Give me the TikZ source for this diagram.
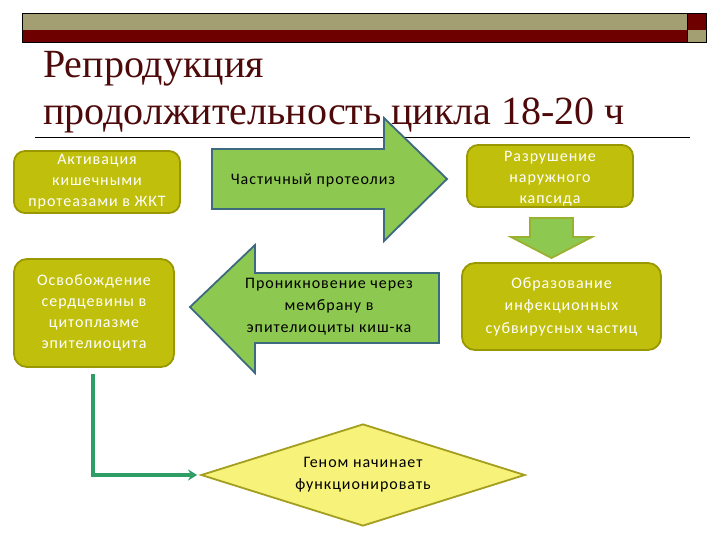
\documentclass[tikz,border=0pt]{standalone}
\usepackage{fontspec}
\setmainfont{Liberation Serif}
\newfontfamily\titlefont{Liberation Serif}
\newfontfamily\boxfont[LetterSpace=6]{Carlito}
\usetikzlibrary{shapes.geometric,arrows.meta}
\definecolor{barolive}{HTML}{A39F72}
\definecolor{bardark}{HTML}{6E0000}
\definecolor{titlecol}{HTML}{4E0A0A}
\definecolor{boxfill}{HTML}{C0BF0C}
\definecolor{boxedge}{HTML}{9A9800}
\definecolor{arrfill}{HTML}{8DC850}
\definecolor{arredge}{HTML}{3D6A7E}
\definecolor{downedge}{HTML}{9CB030}
\definecolor{dmfill}{HTML}{F7F27A}
\definecolor{dmedge}{HTML}{A39E1E}
\definecolor{conncol}{HTML}{2E9E66}
\tikzset{
  ybox/.style={draw=boxedge, line width=1.8pt, fill=boxfill, rounded corners=11pt,
    text=white, font=\boxfont\fontsize{16}{21}\selectfont, align=center, inner sep=0pt},
  blockarrow/.style={draw=arredge, line width=1.8pt, fill=arrfill, line join=miter},
  arrtext/.style={text=black, font=\boxfont\fontsize{16}{22}\selectfont, align=center, inner sep=0pt},
  titletext/.style={text=titlecol, font=\titlefont\fontsize{40}{47}\selectfont, anchor=base west, inner sep=0pt},
  conn/.style={draw=conncol, line width=3.2pt, -{Stealth[length=9pt,width=11pt]}}
}
\begin{document}
\begin{tikzpicture}[x=1pt,y=-1pt]
\useasboundingbox (0,0) rectangle (720,540);
\fill[white] (0,0) rectangle (720,540);
% top bar
\fill[barolive] (22,13) rectangle (687,30);
\fill[bardark] (22,30) rectangle (687,42);
\fill[bardark] (687,13) rectangle (706,30);
\fill[barolive] (687,30) rectangle (706,42);
\draw[line width=0.7pt] (22,13) rectangle (687,42);
\draw[line width=0.7pt] (687,13) rectangle (706,42);
% title
\node[titletext] (t1) at (43,78) {Репродукция};
\node[titletext] (t2) at (43,125) {продолжительность цикла 18-20 ч};
\draw[line width=0.9pt] (35,137.5) coordinate (l1) -- (690,137.5) coordinate (l2);
% right block arrow
\draw[blockarrow] (212,149) -- (384,149) -- (384,118) -- (447,179) -- (384,241) -- (384,209) -- (212,209) -- cycle;
\node[arrtext] (a1) at (313,180) {Частичный протеолиз};
% left block arrow
\draw[blockarrow] (190,307) -- (255,245) -- (255,273) -- (439,273) -- (439,343) -- (255,343) -- (255,373) -- cycle;
\node[arrtext] (a2) at (329,307) {Проникновение через\\мембрану в\\эпителиоциты киш-ка};
% down arrow
\draw[draw=downedge, line width=1.8pt, fill=arrfill] (530,218) -- (573,218) -- (573,237) -- (592,237) -- (551.5,258) -- (511,237) -- (530,237) -- cycle;
% boxes
\node[ybox, minimum width=166pt, minimum height=62pt] (b1) at (97,182) {Активация\\кишечными\\протеазами в ЖКТ};
\node[ybox, minimum width=160pt, minimum height=108pt, rounded corners=13pt] (b2) at (94,313) {Освобождение\\сердцевины в\\цитоплазме\\эпителиоцита};
\node[ybox, minimum width=166pt, minimum height=62pt] (b3) at (550,176) {\rule{0pt}{15pt}Разрушение\\наружного\\капсида};
\node[ybox, minimum width=199pt, minimum height=87pt, rounded corners=13pt, font=\boxfont\fontsize{16}{22.5}\selectfont] (b4) at (561.5,306.5) {Образование\\инфекционных\\субвирусных частиц};
% diamond
\node[diamond, draw=dmedge, line width=1.8pt, fill=dmfill, inner sep=0pt, shape aspect=3.2,
  minimum width=324pt, minimum height=102pt, arrtext] (dm) at (363,475) {Геном начинает\\функционировать};
% connector
\draw[conn, shorten <=6pt, shorten >=3pt] ([xshift=-1pt]b2.south) |- (dm.west);
\end{tikzpicture}
\end{document}
